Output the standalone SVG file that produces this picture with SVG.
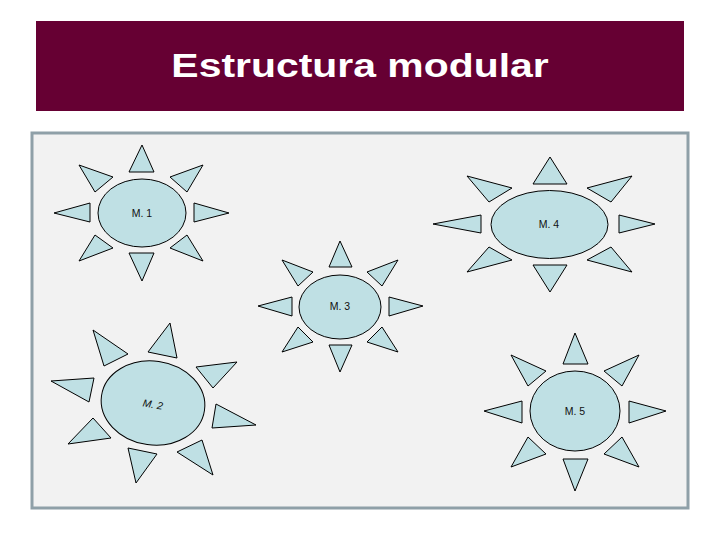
<svg xmlns="http://www.w3.org/2000/svg" width="720" height="540" viewBox="0 0 720 540">
<style>
.s{fill:#bfe0e4;stroke:#000;stroke-width:1}
.l{font-family:"Liberation Sans",Arial,sans-serif;font-size:10.5px;fill:#111;text-anchor:middle;dominant-baseline:central}
</style>
<rect width="720" height="540" fill="#fff"/>
<g id="title">
<rect x="36" y="21" width="648" height="90" fill="#660033"/>
<text transform="translate(360 77) scale(1.24 1)" x="0" y="0" font-family="Liberation Sans,Arial,sans-serif" font-weight="bold" font-size="33" fill="#fff" text-anchor="middle">Estructura modular</text>
</g>
<rect x="32" y="133" width="656" height="375" fill="#f2f2f2" stroke="#8fa0a8" stroke-width="3"/>
<g id="m1">
<ellipse class="s" cx="142" cy="213" rx="44" ry="34"/>
<polygon class="s" points="129,172 142,145 154,172"/>
<polygon class="s" points="194,203 229,213 194,222"/>
<polygon class="s" points="129,253 154,253 142,281"/>
<polygon class="s" points="90,203 54,213 90,222"/>
<polygon class="s" points="79,165 113,177 95,192"/>
<polygon class="s" points="170,177 203,165 187,192"/>
<polygon class="s" points="79,261 95,235 113,248"/>
<polygon class="s" points="170,248 187,235 203,261"/>
<text class="l" x="142" y="213">M. 1</text>
</g>
<g id="m4">
<ellipse class="s" cx="549.5" cy="224.5" rx="58.5" ry="34"/>
<polygon class="s" points="533,184 550,157 567,184"/>
<polygon class="s" points="619,215 655,224 619,233"/>
<polygon class="s" points="533,265 567,265 550,292"/>
<polygon class="s" points="481,215 433,224 481,233"/>
<polygon class="s" points="467,176 512,188 489,202"/>
<polygon class="s" points="587,188 632,176 611,202"/>
<polygon class="s" points="467,272 489,247 512,260"/>
<polygon class="s" points="587,260 611,247 632,272"/>
<text class="l" x="549" y="224">M. 4</text>
</g>
<g id="m3">
<ellipse class="s" cx="340" cy="307" rx="41" ry="32"/>
<polygon class="s" points="329,267 340,241 352,267"/>
<polygon class="s" points="389,297 423,306 389,316"/>
<polygon class="s" points="329,345 352,345 340,372"/>
<polygon class="s" points="292,297 258,306 292,316"/>
<polygon class="s" points="282,260 313,272 298,286"/>
<polygon class="s" points="367,272 398,260 382,286"/>
<polygon class="s" points="282,352 298,327 313,342"/>
<polygon class="s" points="367,342 382,327 398,352"/>
<text class="l" x="340" y="306">M. 3</text>
</g>
<g id="m2">
<ellipse class="s" cx="153" cy="403" rx="52" ry="42" transform="rotate(8 153 403)"/>
<polygon class="s" points="148,352 170,323 177,358"/>
<polygon class="s" points="93,330 128,354 104,366"/>
<polygon class="s" points="51,381 94,378 89,402"/>
<polygon class="s" points="68,444 93,418 111,438"/>
<polygon class="s" points="128,448 157,454 136,483"/>
<polygon class="s" points="177,452 202,440 213,475"/>
<polygon class="s" points="216,404 256,425 212,428"/>
<polygon class="s" points="196,367 237,362 213,388"/>
<text class="l" x="153" y="404" transform="rotate(10 153 404)" font-style="italic">M. 2</text>
</g>
<g id="m5">
<ellipse class="s" cx="575" cy="411" rx="45" ry="40"/>
<polygon class="s" points="563,364 575,333 588,364"/>
<polygon class="s" points="629,401 666,411 629,423"/>
<polygon class="s" points="563,459 588,459 575,491"/>
<polygon class="s" points="522,401 484,411 522,423"/>
<polygon class="s" points="511,355 546,371 528,386"/>
<polygon class="s" points="604,371 639,355 622,386"/>
<polygon class="s" points="511,467 528,437 546,454"/>
<polygon class="s" points="604,454 622,437 639,467"/>
<text class="l" x="575" y="411">M. 5</text>
</g>
<g id="connectors"/>
</svg>
